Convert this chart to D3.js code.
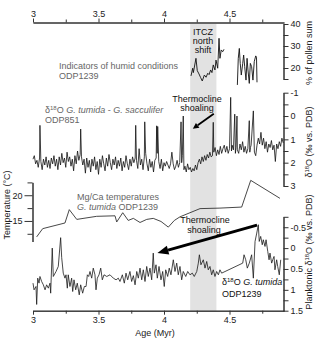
<!DOCTYPE html>
<html><head><meta charset="utf-8">
<script src="https://cdn.jsdelivr.net/npm/d3@7"></script>
<style>
body{margin:0;background:#fff}
svg{display:block}
text{font-family:"Liberation Sans",Arial,Helvetica,sans-serif}
</style>
</head><body>
<svg id="c" width="320" height="342"></svg>
<script>
// ---------- DATA ----------
const ageTicks = [3, 3.5, 4, 4.5];
const ageMinor = [3.25, 3.75, 4.25, 4.75];
const band = [4.2, 4.4];

const pollenTicks = [20, 30, 40];
const pollenMinor = [15, 25, 35];
const d851Ticks = [-1, 0, 1, 2, 3];
const d851Minor = [-0.5, 0.5, 1.5, 2.5];
const tempTicks = [15, 20];
const tempMinor = [12.5, 17.5, 22.5];
const plankTicks = [-0.5, 0, 0.5, 1, 1.5];
const plankMinor = [-0.75, -0.25, 0.25, 0.75, 1.25];

// humid-condition pollen indicators, ODP1239 (two segments)
const pollenSeg1 = [[4.206,16.4],[4.219,19.9],[4.224,17.9],[4.244,24.4],[4.254,18.8],[4.267,17.3],[4.280,15.6],[4.292,14.1],[4.308,16.8],[4.321,15.8],[4.334,17.6],[4.344,17.0],[4.356,19.1],[4.366,17.9],[4.376,21.4],[4.389,19.1],[4.397,23.6],[4.410,19.9],[4.420,33.5],[4.427,24.4],[4.437,28.2],[4.448,27.4],[4.458,28.5]];
const pollenSeg2 = [[4.560,12.3],[4.567,24.4],[4.575,28.9],[4.582,22.1],[4.590,16.8],[4.601,22.1],[4.608,25.9],[4.616,20.6],[4.626,14.5],[4.634,24.4],[4.641,19.1],[4.651,13.0],[4.659,22.1],[4.669,20.6],[4.679,14.5],[4.689,22.9],[4.700,25.5],[4.706,24.9],[4.710,13.5]];

// d18O G. tumida - G. sacculifer, ODP851
const odp851 = [[3.00,1.85],[3.01,1.70],[3.02,2.05],[3.03,1.90],[3.04,2.20],[3.05,1.80],[3.053,0.40],[3.06,1.95],[3.07,2.30],[3.08,1.85],[3.09,2.10],[3.10,1.75],[3.11,2.20],[3.12,1.90],[3.13,2.25],[3.14,1.80],[3.15,2.05],[3.16,1.70],[3.17,2.15],[3.18,1.85],[3.19,2.30],[3.20,1.75],[3.21,2.10],[3.22,1.60],[3.23,2.00],[3.24,1.80],[3.25,2.20],[3.26,1.55],[3.27,1.95],[3.28,1.75],[3.29,2.15],[3.30,1.85],[3.31,2.35],[3.32,1.70],[3.33,2.05],[3.34,1.50],[3.35,1.90],[3.36,1.65],[3.364,0.56],[3.37,1.75],[3.38,2.10],[3.39,1.85],[3.40,2.45],[3.41,1.80],[3.42,2.20],[3.43,1.90],[3.44,2.40],[3.45,1.85],[3.46,2.15],[3.47,1.75],[3.48,2.30],[3.49,1.95],[3.50,2.50],[3.51,1.85],[3.52,2.20],[3.53,1.70],[3.54,2.05],[3.55,2.35],[3.56,1.80],[3.57,2.15],[3.58,1.65],[3.59,2.00],[3.60,2.30],[3.61,1.85],[3.62,2.10],[3.63,1.75],[3.64,2.25],[3.65,1.90],[3.66,2.15],[3.67,1.80],[3.68,2.35],[3.69,1.95],[3.70,2.20],[3.71,1.70],[3.72,2.05],[3.73,2.30],[3.74,1.85],[3.75,2.15],[3.76,1.75],[3.77,2.00],[3.78,1.80],[3.784,0.40],[3.79,1.90],[3.80,2.25],[3.81,1.40],[3.82,2.10],[3.83,1.85],[3.84,2.30],[3.85,1.75],[3.853,0.25],[3.86,1.60],[3.87,2.05],[3.88,2.35],[3.89,1.85],[3.90,2.20],[3.91,1.95],[3.92,2.40],[3.93,1.90],[3.94,1.80],[3.944,0.42],[3.948,1.60],[3.952,0.45],[3.96,1.95],[3.97,2.25],[3.98,1.85],[3.99,2.35],[4.00,2.00],[4.01,2.15],[4.02,1.95],[4.03,2.10],[4.04,2.25],[4.05,2.05],[4.06,1.55],[4.07,2.05],[4.08,2.30],[4.09,2.15],[4.10,1.90],[4.11,2.20],[4.12,2.00],[4.13,0.25],[4.135,2.00],[4.14,1.70],[4.147,0.00],[4.152,2.30],[4.16,2.15],[4.17,2.40],[4.18,2.05],[4.19,2.30],[4.20,2.20],[4.21,2.40],[4.22,2.25],[4.23,2.35],[4.24,2.10],[4.25,2.30],[4.26,2.00],[4.27,1.85],[4.28,2.05],[4.29,1.75],[4.30,1.95],[4.31,1.70],[4.32,1.90],[4.33,1.65],[4.34,1.80],[4.35,1.55],[4.36,1.75],[4.37,1.70],[4.376,0.27],[4.38,1.55],[4.39,1.35],[4.40,1.70],[4.41,1.45],[4.42,1.65],[4.43,1.30],[4.44,1.60],[4.45,1.40],[4.46,1.25],[4.47,1.55],[4.48,1.30],[4.49,1.60],[4.50,1.40],[4.509,-0.80],[4.515,1.50],[4.52,1.25],[4.53,1.45],[4.54,-0.08],[4.545,1.60],[4.55,1.35],[4.557,0.00],[4.56,1.45],[4.57,1.60],[4.58,1.20],[4.59,1.45],[4.60,1.10],[4.61,1.55],[4.62,1.30],[4.63,1.60],[4.64,1.40],[4.651,0.20],[4.655,1.55],[4.66,1.35],[4.665,1.25],[4.682,-0.22],[4.69,1.55],[4.70,1.70],[4.71,1.25],[4.72,0.95],[4.73,1.20],[4.74,0.70],[4.75,1.25],[4.76,0.95],[4.77,1.40],[4.78,1.10],[4.79,1.55],[4.80,1.20],[4.81,1.35],[4.82,1.05],[4.83,1.45],[4.84,1.25],[4.85,1.95],[4.86,1.20],[4.87,1.40],[4.88,1.10],[4.89,1.30],[4.90,0.95],[4.91,1.15]];

// Mg/Ca temperatures G. tumida, ODP1239
const mgca = [[3.028,11.9],[3.074,13.5],[3.244,14.6],[3.277,17.2],[3.334,15.3],[3.486,15.9],[3.626,16.0],[3.639,14.8],[3.685,16.6],[3.727,15.1],[3.766,15.5],[3.817,14.7],[3.868,15.3],[3.918,15.5],[3.977,14.9],[4.033,13.8],[4.079,15.1],[4.122,15.8],[4.275,17.4],[4.427,17.5],[4.593,17.7],[4.662,22.9],[4.885,19.4]];

// planktonic d18O G. tumida, ODP1239
const odp1239 = [[3.000,0.84],[3.008,1.00],[3.023,0.92],[3.028,1.35],[3.036,0.72],[3.046,0.84],[3.053,0.68],[3.066,0.80],[3.079,0.88],[3.092,1.00],[3.104,0.88],[3.117,0.96],[3.130,0.84],[3.135,1.08],[3.147,0.00],[3.155,0.68],[3.176,0.56],[3.193,0.44],[3.211,-0.25],[3.219,0.23],[3.231,0.60],[3.244,0.72],[3.252,0.64],[3.262,0.96],[3.269,0.64],[3.282,0.92],[3.295,0.72],[3.303,1.04],[3.313,0.76],[3.326,1.00],[3.338,0.84],[3.353,1.12],[3.364,0.88],[3.379,1.08],[3.392,0.92],[3.405,0.92],[3.415,0.64],[3.425,0.68],[3.435,0.56],[3.448,0.72],[3.460,0.48],[3.473,0.64],[3.481,1.00],[3.491,0.72],[3.504,0.64],[3.517,0.48],[3.529,0.76],[3.542,0.64],[3.563,0.68],[3.588,0.64],[3.613,0.72],[3.634,0.76],[3.651,0.72],[3.664,0.80],[3.682,0.64],[3.697,0.84],[3.710,0.60],[3.723,0.76],[3.740,0.56],[3.753,0.80],[3.766,0.66],[3.779,0.88],[3.792,0.56],[3.804,0.72],[3.817,0.48],[3.830,0.76],[3.842,0.52],[3.855,0.80],[3.868,0.44],[3.880,0.68],[3.893,0.48],[3.906,0.76],[3.918,0.12],[3.926,0.60],[3.939,0.40],[3.949,0.72],[3.962,0.44],[3.977,0.76],[3.990,0.56],[4.002,0.92],[4.013,0.52],[4.028,0.68],[4.040,0.48],[4.053,0.64],[4.071,0.28],[4.084,0.56],[4.097,0.36],[4.109,0.64],[4.122,0.44],[4.135,0.76],[4.147,0.56],[4.166,0.68],[4.181,0.56],[4.198,0.64],[4.216,0.60],[4.231,0.68],[4.250,0.56],[4.262,0.36],[4.270,0.16],[4.282,0.40],[4.300,0.28],[4.313,0.48],[4.326,0.32],[4.338,0.52],[4.351,0.44],[4.364,0.64],[4.376,0.52],[4.389,0.68],[4.402,0.56],[4.415,0.64],[4.427,0.52],[4.440,0.60],[4.601,0.36],[4.611,0.16],[4.624,0.28],[4.636,0.48],[4.651,0.36],[4.669,0.16],[4.682,0.72],[4.695,-0.16],[4.708,-0.36],[4.720,-0.56],[4.727,-0.16],[4.738,-0.28],[4.750,-0.08],[4.758,-0.20],[4.771,-0.04],[4.779,-0.20],[4.792,0.08],[4.802,0.28],[4.809,0.12],[4.822,0.36],[4.830,0.28],[4.840,0.20],[4.847,0.52],[4.860,0.28],[4.868,0.44],[4.880,0.64],[4.891,0.28]];

// ---------- SCALES ----------
const svg = d3.select("#c");
const x = d3.scaleLinear().domain([3, 4.916]).range([33, 284]);
const yPol = d3.scaleLinear().domain([15, 40]).range([79, 24]);
const y851 = d3.scaleLinear().domain([-1, 3]).range([92.7, 186]);
const yT = d3.scaleLinear().domain([11, 22.5]).range([241.5, 182.4]);
const yP = d3.scaleLinear().domain([-0.75, 1.5]).range([216.8, 310.7]);

const FS = 9;
const fmt = d => String(d);

// band
svg.append("rect")
  .attr("x", x(band[0])).attr("width", x(band[1]) - x(band[0]))
  .attr("y", 24).attr("height", 310.7 - 24)
  .attr("fill", "#e2e2e2");

function styleAxis(g) {
  g.attr("font-family", null).attr("font-size", null);
  g.selectAll("text").attr("font-size", FS).attr("fill", "#222");
  g.selectAll("line,path").attr("stroke", "#333").attr("stroke-width", 1);
}
function addAxis(axisFn, scale, major, minor, tx, ty, size, minorSize, pad) {
  const gMinor = svg.append("g").attr("transform", `translate(${tx},${ty})`)
    .call(axisFn(scale).tickValues(minor).tickSize(minorSize).tickSizeOuter(0).tickFormat(""));
  styleAxis(gMinor);
  const g = svg.append("g").attr("transform", `translate(${tx},${ty})`)
    .call(axisFn(scale).tickValues(major).tickSize(size).tickSizeOuter(0).tickPadding(pad).tickFormat(fmt));
  styleAxis(g);
  return g;
}

// axes
addAxis(d3.axisTop, x, ageTicks, ageMinor, 0, 22.5, 4, 3, 2);
addAxis(d3.axisBottom, x, ageTicks, ageMinor, 0, 310.7, 4, 3, 2);
addAxis(d3.axisRight, yPol, pollenTicks, pollenMinor, 283.5, 0, 5, 5, 2);
addAxis(d3.axisRight, y851, d851Ticks, d851Minor, 283.5, 0, 5, 5, 2);
addAxis(d3.axisLeft, yT, tempTicks, tempMinor, 32.5, 0, 8, 5, 2);
addAxis(d3.axisRight, yP, plankTicks, plankMinor, 283.5, 0, 5, 5, 2);

// series
const lineGen = (ys) => d3.line().x(d => x(d[0])).y(d => ys(d[1]));
function drawLine(data, ys, color, w) {
  svg.append("path").datum(data)
    .attr("d", lineGen(ys))
    .attr("fill", "none").attr("stroke", color)
    .attr("stroke-width", w).attr("stroke-linejoin", "round");
}
drawLine(pollenSeg1, yPol, "#111", 0.9);
drawLine(pollenSeg2, yPol, "#111", 0.9);
drawLine(odp851, y851, "#111", 0.8);
drawLine(mgca, yT, "#333", 0.9);
drawLine(odp1239, yP, "#1a1a1a", 0.8);

// rich text helper
function rich(xp, yp, parts, color, anchor) {
  const t = svg.append("text").attr("x", xp).attr("y", yp)
    .attr("font-size", FS).attr("fill", color || "#222")
    .attr("text-anchor", anchor || "start");
  parts.forEach(p => {
    const s = t.append("tspan").text(p.t);
    if (p.i) s.attr("font-style", "italic");
    if (p.sup) s.attr("font-size", 6).attr("dy", -3);
    if (p.after) s.attr("dy", 3);
  });
  return t;
}

// annotations
const grey = "#666";
rich(59, 69, [{t: "Indicators of humid conditions"}], grey);
rich(59, 78.5, [{t: "ODP1239"}], grey);
rich(45, 112.5, [{t: "δ"}, {t: "18", sup: 1}, {t: "O ", after: 1}, {t: "G. tumida", i: 1}, {t: " - "}, {t: "G. sacculifer", i: 1}], grey);
rich(45, 122.5, [{t: "ODP851"}], grey);
rich(77, 200, [{t: "Mg/Ca temperatures"}], grey);
rich(77, 209.5, [{t: "G. tumida", i: 1}, {t: " ODP1239"}], grey);
rich(222, 284.5, [{t: "δ"}, {t: "18", sup: 1}, {t: "O ", after: 1}, {t: "G. tumida", i: 1}], "#111");
rich(222, 297, [{t: "ODP1239"}], "#111");

["ITCZ", "north", "shift"].forEach((s, i) =>
  rich(203, 35 + i * 9, [{t: s}], "#111", "middle"));
rich(197, 102.3, [{t: "Thermocline"}], "#111", "middle");
rich(197, 111.3, [{t: "shoaling"}], "#111", "middle");
rich(205, 223, [{t: "Thermocline"}], "#111", "middle");
rich(204, 233, [{t: "shoaling"}], "#111", "middle");

// arrows
function arrow(x1, y1, x2, y2, w, hl, hw) {
  const a = Math.atan2(y2 - y1, x2 - x1);
  const bx = x2 - hl * Math.cos(a), by = y2 - hl * Math.sin(a);
  svg.append("line").attr("x1", x1).attr("y1", y1).attr("x2", bx).attr("y2", by)
    .attr("stroke", "#000").attr("stroke-width", w);
  const px = -Math.sin(a) * hw / 2, py = Math.cos(a) * hw / 2;
  svg.append("polygon")
    .attr("points", `${x2},${y2} ${bx + px},${by + py} ${bx - px},${by - py}`)
    .attr("fill", "#000");
}
arrow(x(4.38), y851(-0.1), x(4.22), y851(0.55), 1.8, 6, 6);
arrow(x(4.71), yP(-0.55), x(3.95), yP(0.12), 3, 11, 9);

// axis titles
svg.append("text").attr("x", 155).attr("y", 336).attr("text-anchor", "middle")
  .attr("font-size", FS).attr("fill", "#222").text("Age (Myr)");
function vtitle(xp, yp, parts) {
  const t = rich(0, 0, parts, "#222", "middle");
  t.attr("transform", `translate(${xp},${yp}) rotate(-90)`);
}
vtitle(312, 53, [{t: "% of pollen sum"}]);
vtitle(312, 142, [{t: "δ"}, {t: "18", sup: 1}, {t: "O (‰ vs. PDB)", after: 1}]);
vtitle(312, 252, [{t: "Planktonic δ"}, {t: "18", sup: 1}, {t: "O (‰ vs. PDB)", after: 1}]);
vtitle(10, 205, [{t: "Temperature (°C)"}]);
</script>
</body></html>
